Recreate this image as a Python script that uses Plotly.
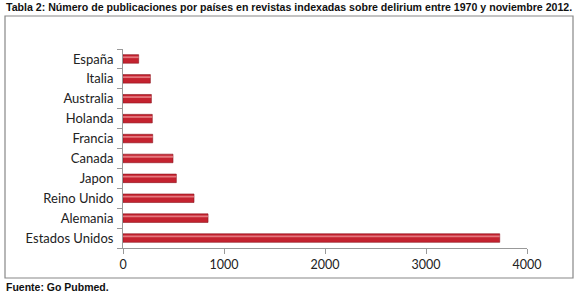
import plotly.graph_objects as go

paises = ["Estados Unidos", "Alemania", "Reino Unido", "Japon", "Canada",
          "Francia", "Holanda", "Australia", "Italia", "España"]
publicaciones = [3730, 842, 703, 528, 495, 294, 290, 281, 271, 155]
x_ticks = [0, 1000, 2000, 3000, 4000]

W, H = 580, 296
L, R, T, B = 123, 53, 49, 48
pw, ph = W - L - R, H - T - B

def px(x):
    return (x - L) / pw

def py(y):
    return 1 - (y - T) / ph

fig = go.Figure()
fig.add_trace(go.Bar(
    y=paises, x=publicaciones, orientation="h", width=0.43,
    marker=dict(color="#c4222f", line=dict(color="#8c1520", width=0.6)),
    hoverinfo="x+y", showlegend=False,
))
fig.add_trace(go.Bar(
    y=paises, x=publicaciones, orientation="h", width=0.09, offset=0.04,
    marker=dict(color="rgba(255,190,190,0.55)", line=dict(width=0)),
    hoverinfo="skip", showlegend=False,
))

fig.update_layout(
    width=W, height=H, barmode="overlay",
    margin=dict(l=L, r=R, t=T, b=B, autoexpand=False),
    paper_bgcolor="white", plot_bgcolor="white",
    font=dict(family="Lato, Open Sans, sans-serif", size=12, color="#222"),
    xaxis=dict(range=[0, 4000], tickvals=x_ticks, ticks="outside", ticklen=5,
               tickcolor="#999", showline=True, linecolor="#999", linewidth=1,
               showgrid=False, zeroline=False,
               tickfont=dict(family="Lato, Open Sans, sans-serif", size=12.5, color="#222")),
    yaxis=dict(showline=True, linecolor="#999", linewidth=1, ticks="outside",
               ticklen=5, tickcolor="#999", tickson="boundaries", showgrid=False,
               ticklabelstandoff=6,
               tickfont=dict(family="Lato, Open Sans, sans-serif", size=13, color="#222")),
    shapes=[dict(type="rect", xref="paper", yref="paper",
                 x0=px(5), x1=px(573), y0=py(278), y1=py(16),
                 line=dict(color="#888", width=1.2), fillcolor="rgba(0,0,0,0)")],
    annotations=[
        dict(text="<b>Tabla 2: Número de publicaciones por países en revistas indexadas sobre delirium entre 1970 y noviembre 2012.</b>",
             xref="paper", yref="paper", x=px(4), y=py(7), xanchor="left", yanchor="middle",
             showarrow=False,
             font=dict(family="Liberation Sans, Arial, sans-serif", size=10.6, color="#111")),
        dict(text="<b>Fuente: Go Pubmed.</b>",
             xref="paper", yref="paper", x=px(4), y=py(287), xanchor="left", yanchor="middle",
             showarrow=False,
             font=dict(family="Liberation Sans, Arial, sans-serif", size=10.5, color="#111")),
    ],
)

fig.write_html("out.html", config={"displayModeBar": False},
               post_script="document.body.style.margin='0';")
